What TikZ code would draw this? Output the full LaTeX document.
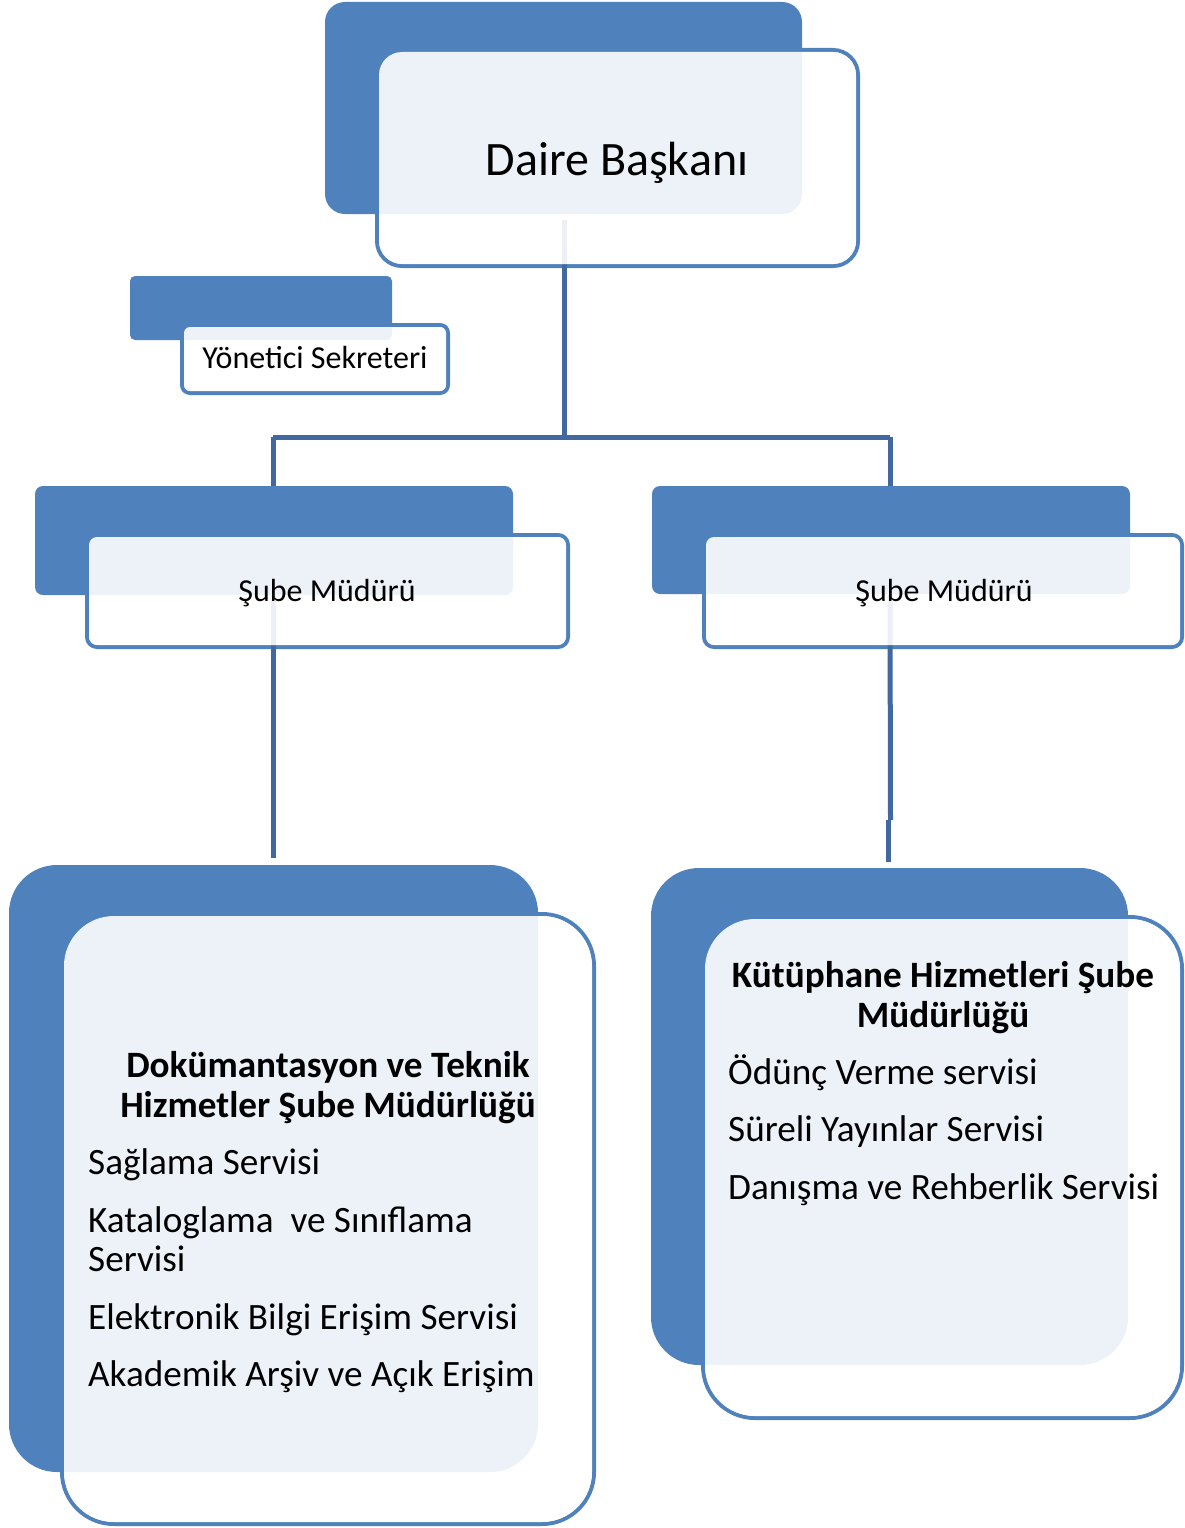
\documentclass[tikz,border=0pt]{standalone}
\usepackage{fontspec}
\setmainfont{Carlito}
\definecolor{acc}{HTML}{4F81BD}
\definecolor{connc}{HTML}{41699F}
\begin{document}
\begin{tikzpicture}[x=1pt,y=-1pt,line join=round,
  outl/.style={draw=acc,line width=4pt},
  backbox/.style={fill=acc},
  frontfill/.style={fill=white,fill opacity=0.9},
  connector/.style={draw=connc,line width=5pt},
  lbl/.style={inner sep=0pt,anchor=base,text=black},
  item/.style={inner sep=0pt,anchor=base west,text=black,font=\fontsize{37.2}{44}\selectfont},
  head/.style={inner sep=0pt,anchor=base,text=black,font=\fontsize{37.2}{44}\selectfont\bfseries}]
\useasboundingbox (0,0) rectangle (1184,1528);

% front outlines
\draw[outl,rounded corners=25] (377,50) rectangle (858,266);
\draw[outl,rounded corners=8] (182,325) rectangle (448,393);
\draw[outl,rounded corners=10] (87,535) rectangle (568,647);
\draw[outl,rounded corners=10] (704,535) rectangle (1182,647);
\draw[outl,rounded corners=52] (62,914) rectangle (594,1524);
\draw[outl,rounded corners=52] (703,917) rectangle (1182,1418);

% connector coordinates
\coordinate (top) at (564,220);
\coordinate (junc) at (564,437);
\coordinate (jl) at (273,437);
\coordinate (jr) at (890,437);
\coordinate (lsub) at (273,600);
\coordinate (rsub) at (890,600);
\coordinate (lend) at (273,858);
\coordinate (rmid) at (890.5,820);
\coordinate (rmid2) at (888.5,820);
\coordinate (rend) at (888.5,862);

\draw[connector] (top) -- (junc);
\draw[connector] (jl) -- (jr);
\draw[connector] (jl) -- (lsub);
\draw[connector] (jr) -- (rsub);
\draw[connector] (lsub) -- (lend);
\draw[connector] (rsub) -- (rmid);
\draw[connector] (rmid2) -- (rend);

% back boxes
\fill[backbox,rounded corners=20] (325,2) rectangle (802,214);
\fill[backbox,rounded corners=5] (130,276) rectangle (392,340);
\fill[backbox,rounded corners=8] (35,486) rectangle (513,595);
\fill[backbox,rounded corners=8] (652,486) rectangle (1130,594);
\fill[backbox,rounded corners=48] (9,865) rectangle (538,1472);
\fill[backbox,rounded corners=48] (651,868) rectangle (1128,1365);

% front fills
\fill[frontfill,rounded corners=23] (379,52) rectangle (856,264);
\fill[frontfill,rounded corners=6] (184,327) rectangle (446,391);
\fill[frontfill,rounded corners=8] (89,537) rectangle (566,645);
\fill[frontfill,rounded corners=8] (706,537) rectangle (1180,645);
\fill[frontfill,rounded corners=50] (64,916) rectangle (592,1522);
\fill[frontfill,rounded corners=50] (705,919) rectangle (1180,1416);

% texts
\node[lbl,font=\fontsize{48}{56}\selectfont] (daire) at (617,175) {Daire Başkanı};
\node[lbl,font=\fontsize{32}{38}\selectfont] (sekreter) at (315,368) {Yönetici Sekreteri};
\node[lbl,font=\fontsize{32}{38}\selectfont] (subeL) at (327,601) {Şube Müdürü};
\node[lbl,font=\fontsize{32}{38}\selectfont] (subeR) at (944,601) {Şube Müdürü};

\node[head] (dokA) at (328,1077) {Dokümantasyon ve Teknik};
\node[head] (dokB) at (328,1117) {Hizmetler Şube Müdürlüğü};
\node[item] (i1) at (88,1174) {Sağlama Servisi};
\node[item] (i2) at (88,1232) {Kataloglama\ \ ve Sınıflama};
\node[item] (i2b) at (88,1271) {Servisi};
\node[item] (i3) at (88,1329) {Elektronik Bilgi Erişim Servisi};
\node[item] (i4) at (88,1386) {Akademik Arşiv ve Açık Erişim};

\node[head] (kutA) at (943,987) {Kütüphane Hizmetleri Şube};
\node[head] (kutB) at (943,1027) {Müdürlüğü};
\node[item] (k1) at (728,1084) {Ödünç Verme servisi};
\node[item] (k2) at (728,1141) {Süreli Yayınlar Servisi};
\node[item] (k3) at (728,1199) {Danışma ve Rehberlik Servisi};
\end{tikzpicture}
\end{document}
